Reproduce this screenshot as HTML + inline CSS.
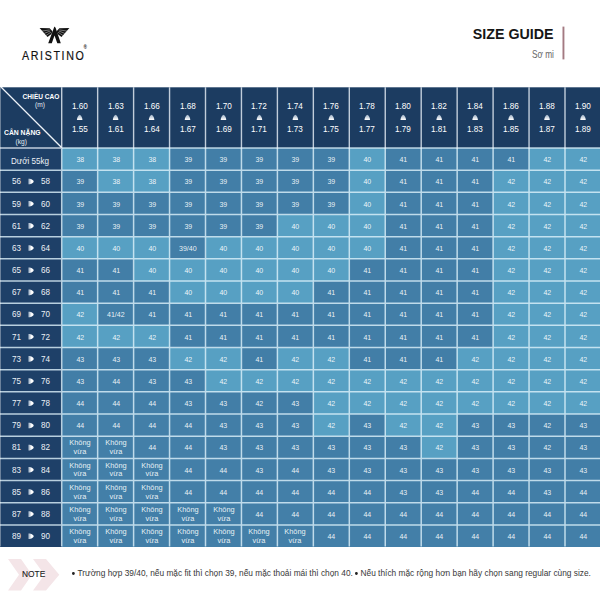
<!DOCTYPE html>
<html><head><meta charset="utf-8"><title>Size guide</title>
<style>
html,body{margin:0;padding:0;background:#fff;}
body{width:600px;height:600px;position:relative;overflow:hidden;font-family:"Liberation Sans",sans-serif;}
.abs{position:absolute;}
.c{position:absolute;color:rgba(255,255,255,.9);font-size:7.8px;line-height:1;text-align:center;display:flex;align-items:center;justify-content:center;box-sizing:border-box;padding-top:2.6px;}
.c span{display:inline-block;transform:scaleX(.9);white-space:nowrap;}
.kv{padding-top:1px !important}
.kv span{font-size:7.6px;line-height:8.2px;transform:scaleX(.97);}
.h{position:absolute;color:#fff;font-size:9.2px;line-height:1;text-align:center;}
.h span{display:inline-block;transform:scaleX(.89);white-space:nowrap;}
.l{position:absolute;color:#edf1f6;font-size:9.4px;line-height:1;white-space:nowrap;}
.l span{display:inline-block;transform:scaleX(.86);transform-origin:0 50%;}
.b{display:inline-block;width:2.8px;height:2.8px;border-radius:50%;background:#222;margin-right:3.2px;vertical-align:1.6px}
</style></head><body>

<svg width="0" height="0" style="position:absolute"><defs><linearGradient id="tg" x1="0" y1="0" x2="0" y2="1"><stop offset="0" stop-color="#9fb2c6"/><stop offset="1" stop-color="#ffffff"/></linearGradient><linearGradient id="ag" x1="0" y1="0" x2="1" y2="0"><stop offset="0" stop-color="#93a7bd"/><stop offset=".6" stop-color="#ffffff"/></linearGradient></defs></svg>
<svg class="abs" style="left:0;top:0" width="600" height="160"><rect x="0" y="87.3" width="600" height="60.7" fill="#1c3c61"/></svg>
<div class="abs" style="left:0;top:148.0px;width:61.7px;height:399.0px;background:#1e4068"></div>
<div class="abs" style="left:61.7px;top:148.0px;width:538.3px;height:399.0px;background:#4d8eb5"></div>
<div class="c" style="left:62px;top:148px;width:36px;height:22px;background:#57a0c3"><span>38</span></div>
<div class="c" style="left:98px;top:148px;width:36px;height:22px;background:#57a0c3"><span>38</span></div>
<div class="c" style="left:134px;top:148px;width:36px;height:22px;background:#57a0c3"><span>38</span></div>
<div class="c" style="left:170px;top:148px;width:36px;height:22px;background:#427ea7"><span>39</span></div>
<div class="c" style="left:206px;top:148px;width:35px;height:22px;background:#427ea7"><span>39</span></div>
<div class="c" style="left:241px;top:148px;width:36px;height:22px;background:#427ea7"><span>39</span></div>
<div class="c" style="left:277px;top:148px;width:36px;height:22px;background:#427ea7"><span>39</span></div>
<div class="c" style="left:313px;top:148px;width:36px;height:22px;background:#427ea7"><span>39</span></div>
<div class="c" style="left:349px;top:148px;width:36px;height:22px;background:#57a0c3"><span>40</span></div>
<div class="c" style="left:385px;top:148px;width:36px;height:22px;background:#427ea7"><span>41</span></div>
<div class="c" style="left:421px;top:148px;width:36px;height:22px;background:#427ea7"><span>41</span></div>
<div class="c" style="left:457px;top:148px;width:36px;height:22px;background:#427ea7"><span>41</span></div>
<div class="c" style="left:493px;top:148px;width:36px;height:22px;background:#427ea7"><span>41</span></div>
<div class="c" style="left:529px;top:148px;width:36px;height:22px;background:#57a0c3"><span>42</span></div>
<div class="c" style="left:565px;top:148px;width:36px;height:22px;background:#57a0c3"><span>42</span></div>
<div class="c" style="left:62px;top:170px;width:36px;height:22px;background:#427ea7"><span>39</span></div>
<div class="c" style="left:98px;top:170px;width:36px;height:22px;background:#57a0c3"><span>38</span></div>
<div class="c" style="left:134px;top:170px;width:36px;height:22px;background:#57a0c3"><span>38</span></div>
<div class="c" style="left:170px;top:170px;width:36px;height:22px;background:#427ea7"><span>39</span></div>
<div class="c" style="left:206px;top:170px;width:35px;height:22px;background:#427ea7"><span>39</span></div>
<div class="c" style="left:241px;top:170px;width:36px;height:22px;background:#427ea7"><span>39</span></div>
<div class="c" style="left:277px;top:170px;width:36px;height:22px;background:#427ea7"><span>39</span></div>
<div class="c" style="left:313px;top:170px;width:36px;height:22px;background:#427ea7"><span>39</span></div>
<div class="c" style="left:349px;top:170px;width:36px;height:22px;background:#57a0c3"><span>40</span></div>
<div class="c" style="left:385px;top:170px;width:36px;height:22px;background:#427ea7"><span>41</span></div>
<div class="c" style="left:421px;top:170px;width:36px;height:22px;background:#427ea7"><span>41</span></div>
<div class="c" style="left:457px;top:170px;width:36px;height:22px;background:#427ea7"><span>41</span></div>
<div class="c" style="left:493px;top:170px;width:36px;height:22px;background:#57a0c3"><span>42</span></div>
<div class="c" style="left:529px;top:170px;width:36px;height:22px;background:#57a0c3"><span>42</span></div>
<div class="c" style="left:565px;top:170px;width:36px;height:22px;background:#57a0c3"><span>42</span></div>
<div class="c" style="left:62px;top:192px;width:36px;height:23px;background:#427ea7"><span>39</span></div>
<div class="c" style="left:98px;top:192px;width:36px;height:23px;background:#427ea7"><span>39</span></div>
<div class="c" style="left:134px;top:192px;width:36px;height:23px;background:#427ea7"><span>39</span></div>
<div class="c" style="left:170px;top:192px;width:36px;height:23px;background:#427ea7"><span>39</span></div>
<div class="c" style="left:206px;top:192px;width:35px;height:23px;background:#427ea7"><span>39</span></div>
<div class="c" style="left:241px;top:192px;width:36px;height:23px;background:#427ea7"><span>39</span></div>
<div class="c" style="left:277px;top:192px;width:36px;height:23px;background:#427ea7"><span>39</span></div>
<div class="c" style="left:313px;top:192px;width:36px;height:23px;background:#427ea7"><span>39</span></div>
<div class="c" style="left:349px;top:192px;width:36px;height:23px;background:#57a0c3"><span>40</span></div>
<div class="c" style="left:385px;top:192px;width:36px;height:23px;background:#427ea7"><span>41</span></div>
<div class="c" style="left:421px;top:192px;width:36px;height:23px;background:#427ea7"><span>41</span></div>
<div class="c" style="left:457px;top:192px;width:36px;height:23px;background:#427ea7"><span>41</span></div>
<div class="c" style="left:493px;top:192px;width:36px;height:23px;background:#57a0c3"><span>42</span></div>
<div class="c" style="left:529px;top:192px;width:36px;height:23px;background:#57a0c3"><span>42</span></div>
<div class="c" style="left:565px;top:192px;width:36px;height:23px;background:#57a0c3"><span>42</span></div>
<div class="c" style="left:62px;top:215px;width:36px;height:22px;background:#427ea7"><span>39</span></div>
<div class="c" style="left:98px;top:215px;width:36px;height:22px;background:#427ea7"><span>39</span></div>
<div class="c" style="left:134px;top:215px;width:36px;height:22px;background:#427ea7"><span>39</span></div>
<div class="c" style="left:170px;top:215px;width:36px;height:22px;background:#427ea7"><span>39</span></div>
<div class="c" style="left:206px;top:215px;width:35px;height:22px;background:#427ea7"><span>39</span></div>
<div class="c" style="left:241px;top:215px;width:36px;height:22px;background:#427ea7"><span>39</span></div>
<div class="c" style="left:277px;top:215px;width:36px;height:22px;background:#57a0c3"><span>40</span></div>
<div class="c" style="left:313px;top:215px;width:36px;height:22px;background:#57a0c3"><span>40</span></div>
<div class="c" style="left:349px;top:215px;width:36px;height:22px;background:#57a0c3"><span>40</span></div>
<div class="c" style="left:385px;top:215px;width:36px;height:22px;background:#427ea7"><span>41</span></div>
<div class="c" style="left:421px;top:215px;width:36px;height:22px;background:#427ea7"><span>41</span></div>
<div class="c" style="left:457px;top:215px;width:36px;height:22px;background:#427ea7"><span>41</span></div>
<div class="c" style="left:493px;top:215px;width:36px;height:22px;background:#57a0c3"><span>42</span></div>
<div class="c" style="left:529px;top:215px;width:36px;height:22px;background:#57a0c3"><span>42</span></div>
<div class="c" style="left:565px;top:215px;width:36px;height:22px;background:#57a0c3"><span>42</span></div>
<div class="c" style="left:62px;top:237px;width:36px;height:22px;background:#57a0c3"><span>40</span></div>
<div class="c" style="left:98px;top:237px;width:36px;height:22px;background:#57a0c3"><span>40</span></div>
<div class="c" style="left:134px;top:237px;width:36px;height:22px;background:#57a0c3"><span>40</span></div>
<div class="c" style="left:170px;top:237px;width:36px;height:22px;background:#427ea7"><span>39/40</span></div>
<div class="c" style="left:206px;top:237px;width:35px;height:22px;background:#57a0c3"><span>40</span></div>
<div class="c" style="left:241px;top:237px;width:36px;height:22px;background:#57a0c3"><span>40</span></div>
<div class="c" style="left:277px;top:237px;width:36px;height:22px;background:#57a0c3"><span>40</span></div>
<div class="c" style="left:313px;top:237px;width:36px;height:22px;background:#57a0c3"><span>40</span></div>
<div class="c" style="left:349px;top:237px;width:36px;height:22px;background:#57a0c3"><span>40</span></div>
<div class="c" style="left:385px;top:237px;width:36px;height:22px;background:#427ea7"><span>41</span></div>
<div class="c" style="left:421px;top:237px;width:36px;height:22px;background:#427ea7"><span>41</span></div>
<div class="c" style="left:457px;top:237px;width:36px;height:22px;background:#427ea7"><span>41</span></div>
<div class="c" style="left:493px;top:237px;width:36px;height:22px;background:#57a0c3"><span>42</span></div>
<div class="c" style="left:529px;top:237px;width:36px;height:22px;background:#57a0c3"><span>42</span></div>
<div class="c" style="left:565px;top:237px;width:36px;height:22px;background:#57a0c3"><span>42</span></div>
<div class="c" style="left:62px;top:259px;width:36px;height:22px;background:#427ea7"><span>41</span></div>
<div class="c" style="left:98px;top:259px;width:36px;height:22px;background:#427ea7"><span>41</span></div>
<div class="c" style="left:134px;top:259px;width:36px;height:22px;background:#57a0c3"><span>40</span></div>
<div class="c" style="left:170px;top:259px;width:36px;height:22px;background:#57a0c3"><span>40</span></div>
<div class="c" style="left:206px;top:259px;width:35px;height:22px;background:#57a0c3"><span>40</span></div>
<div class="c" style="left:241px;top:259px;width:36px;height:22px;background:#57a0c3"><span>40</span></div>
<div class="c" style="left:277px;top:259px;width:36px;height:22px;background:#57a0c3"><span>40</span></div>
<div class="c" style="left:313px;top:259px;width:36px;height:22px;background:#57a0c3"><span>40</span></div>
<div class="c" style="left:349px;top:259px;width:36px;height:22px;background:#427ea7"><span>41</span></div>
<div class="c" style="left:385px;top:259px;width:36px;height:22px;background:#427ea7"><span>41</span></div>
<div class="c" style="left:421px;top:259px;width:36px;height:22px;background:#427ea7"><span>41</span></div>
<div class="c" style="left:457px;top:259px;width:36px;height:22px;background:#427ea7"><span>41</span></div>
<div class="c" style="left:493px;top:259px;width:36px;height:22px;background:#57a0c3"><span>42</span></div>
<div class="c" style="left:529px;top:259px;width:36px;height:22px;background:#57a0c3"><span>42</span></div>
<div class="c" style="left:565px;top:259px;width:36px;height:22px;background:#57a0c3"><span>42</span></div>
<div class="c" style="left:62px;top:281px;width:36px;height:22px;background:#427ea7"><span>41</span></div>
<div class="c" style="left:98px;top:281px;width:36px;height:22px;background:#427ea7"><span>41</span></div>
<div class="c" style="left:134px;top:281px;width:36px;height:22px;background:#427ea7"><span>41</span></div>
<div class="c" style="left:170px;top:281px;width:36px;height:22px;background:#57a0c3"><span>40</span></div>
<div class="c" style="left:206px;top:281px;width:35px;height:22px;background:#57a0c3"><span>40</span></div>
<div class="c" style="left:241px;top:281px;width:36px;height:22px;background:#57a0c3"><span>40</span></div>
<div class="c" style="left:277px;top:281px;width:36px;height:22px;background:#57a0c3"><span>40</span></div>
<div class="c" style="left:313px;top:281px;width:36px;height:22px;background:#427ea7"><span>41</span></div>
<div class="c" style="left:349px;top:281px;width:36px;height:22px;background:#427ea7"><span>41</span></div>
<div class="c" style="left:385px;top:281px;width:36px;height:22px;background:#427ea7"><span>41</span></div>
<div class="c" style="left:421px;top:281px;width:36px;height:22px;background:#427ea7"><span>41</span></div>
<div class="c" style="left:457px;top:281px;width:36px;height:22px;background:#427ea7"><span>41</span></div>
<div class="c" style="left:493px;top:281px;width:36px;height:22px;background:#57a0c3"><span>42</span></div>
<div class="c" style="left:529px;top:281px;width:36px;height:22px;background:#57a0c3"><span>42</span></div>
<div class="c" style="left:565px;top:281px;width:36px;height:22px;background:#57a0c3"><span>42</span></div>
<div class="c" style="left:62px;top:303px;width:36px;height:22px;background:#57a0c3"><span>42</span></div>
<div class="c" style="left:98px;top:303px;width:36px;height:22px;background:#427ea7"><span>41/42</span></div>
<div class="c" style="left:134px;top:303px;width:36px;height:22px;background:#427ea7"><span>41</span></div>
<div class="c" style="left:170px;top:303px;width:36px;height:22px;background:#427ea7"><span>41</span></div>
<div class="c" style="left:206px;top:303px;width:35px;height:22px;background:#427ea7"><span>41</span></div>
<div class="c" style="left:241px;top:303px;width:36px;height:22px;background:#427ea7"><span>41</span></div>
<div class="c" style="left:277px;top:303px;width:36px;height:22px;background:#427ea7"><span>41</span></div>
<div class="c" style="left:313px;top:303px;width:36px;height:22px;background:#427ea7"><span>41</span></div>
<div class="c" style="left:349px;top:303px;width:36px;height:22px;background:#427ea7"><span>41</span></div>
<div class="c" style="left:385px;top:303px;width:36px;height:22px;background:#427ea7"><span>41</span></div>
<div class="c" style="left:421px;top:303px;width:36px;height:22px;background:#427ea7"><span>41</span></div>
<div class="c" style="left:457px;top:303px;width:36px;height:22px;background:#427ea7"><span>41</span></div>
<div class="c" style="left:493px;top:303px;width:36px;height:22px;background:#57a0c3"><span>42</span></div>
<div class="c" style="left:529px;top:303px;width:36px;height:22px;background:#57a0c3"><span>42</span></div>
<div class="c" style="left:565px;top:303px;width:36px;height:22px;background:#57a0c3"><span>42</span></div>
<div class="c" style="left:62px;top:325px;width:36px;height:23px;background:#57a0c3"><span>42</span></div>
<div class="c" style="left:98px;top:325px;width:36px;height:23px;background:#57a0c3"><span>42</span></div>
<div class="c" style="left:134px;top:325px;width:36px;height:23px;background:#57a0c3"><span>42</span></div>
<div class="c" style="left:170px;top:325px;width:36px;height:23px;background:#427ea7"><span>41</span></div>
<div class="c" style="left:206px;top:325px;width:35px;height:23px;background:#427ea7"><span>41</span></div>
<div class="c" style="left:241px;top:325px;width:36px;height:23px;background:#427ea7"><span>41</span></div>
<div class="c" style="left:277px;top:325px;width:36px;height:23px;background:#427ea7"><span>41</span></div>
<div class="c" style="left:313px;top:325px;width:36px;height:23px;background:#427ea7"><span>41</span></div>
<div class="c" style="left:349px;top:325px;width:36px;height:23px;background:#427ea7"><span>41</span></div>
<div class="c" style="left:385px;top:325px;width:36px;height:23px;background:#427ea7"><span>41</span></div>
<div class="c" style="left:421px;top:325px;width:36px;height:23px;background:#427ea7"><span>41</span></div>
<div class="c" style="left:457px;top:325px;width:36px;height:23px;background:#427ea7"><span>41</span></div>
<div class="c" style="left:493px;top:325px;width:36px;height:23px;background:#57a0c3"><span>42</span></div>
<div class="c" style="left:529px;top:325px;width:36px;height:23px;background:#57a0c3"><span>42</span></div>
<div class="c" style="left:565px;top:325px;width:36px;height:23px;background:#57a0c3"><span>42</span></div>
<div class="c" style="left:62px;top:348px;width:36px;height:22px;background:#427ea7"><span>43</span></div>
<div class="c" style="left:98px;top:348px;width:36px;height:22px;background:#427ea7"><span>43</span></div>
<div class="c" style="left:134px;top:348px;width:36px;height:22px;background:#427ea7"><span>43</span></div>
<div class="c" style="left:170px;top:348px;width:36px;height:22px;background:#57a0c3"><span>42</span></div>
<div class="c" style="left:206px;top:348px;width:35px;height:22px;background:#57a0c3"><span>42</span></div>
<div class="c" style="left:241px;top:348px;width:36px;height:22px;background:#427ea7"><span>41</span></div>
<div class="c" style="left:277px;top:348px;width:36px;height:22px;background:#57a0c3"><span>42</span></div>
<div class="c" style="left:313px;top:348px;width:36px;height:22px;background:#57a0c3"><span>42</span></div>
<div class="c" style="left:349px;top:348px;width:36px;height:22px;background:#427ea7"><span>41</span></div>
<div class="c" style="left:385px;top:348px;width:36px;height:22px;background:#427ea7"><span>41</span></div>
<div class="c" style="left:421px;top:348px;width:36px;height:22px;background:#427ea7"><span>41</span></div>
<div class="c" style="left:457px;top:348px;width:36px;height:22px;background:#57a0c3"><span>42</span></div>
<div class="c" style="left:493px;top:348px;width:36px;height:22px;background:#57a0c3"><span>42</span></div>
<div class="c" style="left:529px;top:348px;width:36px;height:22px;background:#57a0c3"><span>42</span></div>
<div class="c" style="left:565px;top:348px;width:36px;height:22px;background:#57a0c3"><span>42</span></div>
<div class="c" style="left:62px;top:370px;width:36px;height:22px;background:#427ea7"><span>43</span></div>
<div class="c" style="left:98px;top:370px;width:36px;height:22px;background:#437fa8"><span>44</span></div>
<div class="c" style="left:134px;top:370px;width:36px;height:22px;background:#427ea7"><span>43</span></div>
<div class="c" style="left:170px;top:370px;width:36px;height:22px;background:#427ea7"><span>43</span></div>
<div class="c" style="left:206px;top:370px;width:35px;height:22px;background:#57a0c3"><span>42</span></div>
<div class="c" style="left:241px;top:370px;width:36px;height:22px;background:#57a0c3"><span>42</span></div>
<div class="c" style="left:277px;top:370px;width:36px;height:22px;background:#57a0c3"><span>42</span></div>
<div class="c" style="left:313px;top:370px;width:36px;height:22px;background:#57a0c3"><span>42</span></div>
<div class="c" style="left:349px;top:370px;width:36px;height:22px;background:#57a0c3"><span>42</span></div>
<div class="c" style="left:385px;top:370px;width:36px;height:22px;background:#57a0c3"><span>42</span></div>
<div class="c" style="left:421px;top:370px;width:36px;height:22px;background:#57a0c3"><span>42</span></div>
<div class="c" style="left:457px;top:370px;width:36px;height:22px;background:#57a0c3"><span>42</span></div>
<div class="c" style="left:493px;top:370px;width:36px;height:22px;background:#57a0c3"><span>42</span></div>
<div class="c" style="left:529px;top:370px;width:36px;height:22px;background:#57a0c3"><span>42</span></div>
<div class="c" style="left:565px;top:370px;width:36px;height:22px;background:#57a0c3"><span>42</span></div>
<div class="c" style="left:62px;top:392px;width:36px;height:22px;background:#437fa8"><span>44</span></div>
<div class="c" style="left:98px;top:392px;width:36px;height:22px;background:#437fa8"><span>44</span></div>
<div class="c" style="left:134px;top:392px;width:36px;height:22px;background:#437fa8"><span>44</span></div>
<div class="c" style="left:170px;top:392px;width:36px;height:22px;background:#427ea7"><span>43</span></div>
<div class="c" style="left:206px;top:392px;width:35px;height:22px;background:#427ea7"><span>43</span></div>
<div class="c" style="left:241px;top:392px;width:36px;height:22px;background:#427ea7"><span>42</span></div>
<div class="c" style="left:277px;top:392px;width:36px;height:22px;background:#427ea7"><span>43</span></div>
<div class="c" style="left:313px;top:392px;width:36px;height:22px;background:#57a0c3"><span>42</span></div>
<div class="c" style="left:349px;top:392px;width:36px;height:22px;background:#57a0c3"><span>42</span></div>
<div class="c" style="left:385px;top:392px;width:36px;height:22px;background:#57a0c3"><span>42</span></div>
<div class="c" style="left:421px;top:392px;width:36px;height:22px;background:#57a0c3"><span>42</span></div>
<div class="c" style="left:457px;top:392px;width:36px;height:22px;background:#57a0c3"><span>42</span></div>
<div class="c" style="left:493px;top:392px;width:36px;height:22px;background:#57a0c3"><span>42</span></div>
<div class="c" style="left:529px;top:392px;width:36px;height:22px;background:#57a0c3"><span>42</span></div>
<div class="c" style="left:565px;top:392px;width:36px;height:22px;background:#57a0c3"><span>42</span></div>
<div class="c" style="left:62px;top:414px;width:36px;height:22px;background:#437fa8"><span>44</span></div>
<div class="c" style="left:98px;top:414px;width:36px;height:22px;background:#437fa8"><span>44</span></div>
<div class="c" style="left:134px;top:414px;width:36px;height:22px;background:#437fa8"><span>44</span></div>
<div class="c" style="left:170px;top:414px;width:36px;height:22px;background:#437fa8"><span>44</span></div>
<div class="c" style="left:206px;top:414px;width:35px;height:22px;background:#427ea7"><span>43</span></div>
<div class="c" style="left:241px;top:414px;width:36px;height:22px;background:#427ea7"><span>43</span></div>
<div class="c" style="left:277px;top:414px;width:36px;height:22px;background:#427ea7"><span>43</span></div>
<div class="c" style="left:313px;top:414px;width:36px;height:22px;background:#57a0c3"><span>42</span></div>
<div class="c" style="left:349px;top:414px;width:36px;height:22px;background:#427ea7"><span>43</span></div>
<div class="c" style="left:385px;top:414px;width:36px;height:22px;background:#57a0c3"><span>42</span></div>
<div class="c" style="left:421px;top:414px;width:36px;height:22px;background:#57a0c3"><span>42</span></div>
<div class="c" style="left:457px;top:414px;width:36px;height:22px;background:#427ea7"><span>43</span></div>
<div class="c" style="left:493px;top:414px;width:36px;height:22px;background:#427ea7"><span>43</span></div>
<div class="c" style="left:529px;top:414px;width:36px;height:22px;background:#427ea7"><span>42</span></div>
<div class="c" style="left:565px;top:414px;width:36px;height:22px;background:#427ea7"><span>43</span></div>
<div class="c kv" style="left:62px;top:436px;width:36px;height:22px;background:#437fa8"><span>Không<br>vừa</span></div>
<div class="c kv" style="left:98px;top:436px;width:36px;height:22px;background:#437fa8"><span>Không<br>vừa</span></div>
<div class="c" style="left:134px;top:436px;width:36px;height:22px;background:#437fa8"><span>44</span></div>
<div class="c" style="left:170px;top:436px;width:36px;height:22px;background:#437fa8"><span>44</span></div>
<div class="c" style="left:206px;top:436px;width:35px;height:22px;background:#427ea7"><span>43</span></div>
<div class="c" style="left:241px;top:436px;width:36px;height:22px;background:#427ea7"><span>43</span></div>
<div class="c" style="left:277px;top:436px;width:36px;height:22px;background:#427ea7"><span>43</span></div>
<div class="c" style="left:313px;top:436px;width:36px;height:22px;background:#427ea7"><span>43</span></div>
<div class="c" style="left:349px;top:436px;width:36px;height:22px;background:#427ea7"><span>43</span></div>
<div class="c" style="left:385px;top:436px;width:36px;height:22px;background:#427ea7"><span>43</span></div>
<div class="c" style="left:421px;top:436px;width:36px;height:22px;background:#57a0c3"><span>42</span></div>
<div class="c" style="left:457px;top:436px;width:36px;height:22px;background:#427ea7"><span>43</span></div>
<div class="c" style="left:493px;top:436px;width:36px;height:22px;background:#427ea7"><span>43</span></div>
<div class="c" style="left:529px;top:436px;width:36px;height:22px;background:#427ea7"><span>42</span></div>
<div class="c" style="left:565px;top:436px;width:36px;height:22px;background:#427ea7"><span>43</span></div>
<div class="c kv" style="left:62px;top:458px;width:36px;height:23px;background:#437fa8"><span>Không<br>vừa</span></div>
<div class="c kv" style="left:98px;top:458px;width:36px;height:23px;background:#437fa8"><span>Không<br>vừa</span></div>
<div class="c kv" style="left:134px;top:458px;width:36px;height:23px;background:#437fa8"><span>Không<br>vừa</span></div>
<div class="c" style="left:170px;top:458px;width:36px;height:23px;background:#437fa8"><span>44</span></div>
<div class="c" style="left:206px;top:458px;width:35px;height:23px;background:#437fa8"><span>44</span></div>
<div class="c" style="left:241px;top:458px;width:36px;height:23px;background:#427ea7"><span>43</span></div>
<div class="c" style="left:277px;top:458px;width:36px;height:23px;background:#437fa8"><span>44</span></div>
<div class="c" style="left:313px;top:458px;width:36px;height:23px;background:#427ea7"><span>43</span></div>
<div class="c" style="left:349px;top:458px;width:36px;height:23px;background:#427ea7"><span>43</span></div>
<div class="c" style="left:385px;top:458px;width:36px;height:23px;background:#427ea7"><span>43</span></div>
<div class="c" style="left:421px;top:458px;width:36px;height:23px;background:#427ea7"><span>43</span></div>
<div class="c" style="left:457px;top:458px;width:36px;height:23px;background:#427ea7"><span>43</span></div>
<div class="c" style="left:493px;top:458px;width:36px;height:23px;background:#427ea7"><span>43</span></div>
<div class="c" style="left:529px;top:458px;width:36px;height:23px;background:#427ea7"><span>43</span></div>
<div class="c" style="left:565px;top:458px;width:36px;height:23px;background:#427ea7"><span>43</span></div>
<div class="c kv" style="left:62px;top:481px;width:36px;height:22px;background:#437fa8"><span>Không<br>vừa</span></div>
<div class="c kv" style="left:98px;top:481px;width:36px;height:22px;background:#437fa8"><span>Không<br>vừa</span></div>
<div class="c kv" style="left:134px;top:481px;width:36px;height:22px;background:#437fa8"><span>Không<br>vừa</span></div>
<div class="c" style="left:170px;top:481px;width:36px;height:22px;background:#437fa8"><span>44</span></div>
<div class="c" style="left:206px;top:481px;width:35px;height:22px;background:#437fa8"><span>44</span></div>
<div class="c" style="left:241px;top:481px;width:36px;height:22px;background:#437fa8"><span>44</span></div>
<div class="c" style="left:277px;top:481px;width:36px;height:22px;background:#437fa8"><span>44</span></div>
<div class="c" style="left:313px;top:481px;width:36px;height:22px;background:#437fa8"><span>44</span></div>
<div class="c" style="left:349px;top:481px;width:36px;height:22px;background:#437fa8"><span>44</span></div>
<div class="c" style="left:385px;top:481px;width:36px;height:22px;background:#427ea7"><span>43</span></div>
<div class="c" style="left:421px;top:481px;width:36px;height:22px;background:#427ea7"><span>43</span></div>
<div class="c" style="left:457px;top:481px;width:36px;height:22px;background:#437fa8"><span>44</span></div>
<div class="c" style="left:493px;top:481px;width:36px;height:22px;background:#437fa8"><span>44</span></div>
<div class="c" style="left:529px;top:481px;width:36px;height:22px;background:#427ea7"><span>43</span></div>
<div class="c" style="left:565px;top:481px;width:36px;height:22px;background:#437fa8"><span>44</span></div>
<div class="c kv" style="left:62px;top:503px;width:36px;height:22px;background:#437fa8"><span>Không<br>vừa</span></div>
<div class="c kv" style="left:98px;top:503px;width:36px;height:22px;background:#437fa8"><span>Không<br>vừa</span></div>
<div class="c kv" style="left:134px;top:503px;width:36px;height:22px;background:#437fa8"><span>Không<br>vừa</span></div>
<div class="c kv" style="left:170px;top:503px;width:36px;height:22px;background:#437fa8"><span>Không<br>vừa</span></div>
<div class="c kv" style="left:206px;top:503px;width:35px;height:22px;background:#437fa8"><span>Không<br>vừa</span></div>
<div class="c" style="left:241px;top:503px;width:36px;height:22px;background:#437fa8"><span>44</span></div>
<div class="c" style="left:277px;top:503px;width:36px;height:22px;background:#437fa8"><span>44</span></div>
<div class="c" style="left:313px;top:503px;width:36px;height:22px;background:#437fa8"><span>44</span></div>
<div class="c" style="left:349px;top:503px;width:36px;height:22px;background:#437fa8"><span>44</span></div>
<div class="c" style="left:385px;top:503px;width:36px;height:22px;background:#437fa8"><span>44</span></div>
<div class="c" style="left:421px;top:503px;width:36px;height:22px;background:#437fa8"><span>44</span></div>
<div class="c" style="left:457px;top:503px;width:36px;height:22px;background:#437fa8"><span>44</span></div>
<div class="c" style="left:493px;top:503px;width:36px;height:22px;background:#437fa8"><span>44</span></div>
<div class="c" style="left:529px;top:503px;width:36px;height:22px;background:#437fa8"><span>44</span></div>
<div class="c" style="left:565px;top:503px;width:36px;height:22px;background:#437fa8"><span>44</span></div>
<div class="c kv" style="left:62px;top:525px;width:36px;height:22px;background:#437fa8"><span>Không<br>vừa</span></div>
<div class="c kv" style="left:98px;top:525px;width:36px;height:22px;background:#437fa8"><span>Không<br>vừa</span></div>
<div class="c kv" style="left:134px;top:525px;width:36px;height:22px;background:#437fa8"><span>Không<br>vừa</span></div>
<div class="c kv" style="left:170px;top:525px;width:36px;height:22px;background:#437fa8"><span>Không<br>vừa</span></div>
<div class="c kv" style="left:206px;top:525px;width:35px;height:22px;background:#437fa8"><span>Không<br>vừa</span></div>
<div class="c kv" style="left:241px;top:525px;width:36px;height:22px;background:#437fa8"><span>Không<br>vừa</span></div>
<div class="c kv" style="left:277px;top:525px;width:36px;height:22px;background:#437fa8"><span>Không<br>vừa</span></div>
<div class="c" style="left:313px;top:525px;width:36px;height:22px;background:#437fa8"><span>44</span></div>
<div class="c" style="left:349px;top:525px;width:36px;height:22px;background:#437fa8"><span>44</span></div>
<div class="c" style="left:385px;top:525px;width:36px;height:22px;background:#437fa8"><span>44</span></div>
<div class="c" style="left:421px;top:525px;width:36px;height:22px;background:#437fa8"><span>44</span></div>
<div class="c" style="left:457px;top:525px;width:36px;height:22px;background:#437fa8"><span>44</span></div>
<div class="c" style="left:493px;top:525px;width:36px;height:22px;background:#437fa8"><span>44</span></div>
<div class="c" style="left:529px;top:525px;width:36px;height:22px;background:#437fa8"><span>44</span></div>
<div class="c" style="left:565px;top:525px;width:36px;height:22px;background:#437fa8"><span>44</span></div>
<div class="h" style="left:61.70px;top:101.9px;width:35.95px"><span>1.60</span></div>
<div class="h" style="left:61.70px;top:125px;width:35.95px"><span>1.55</span></div>
<div class="h" style="left:97.65px;top:101.9px;width:35.95px"><span>1.63</span></div>
<div class="h" style="left:97.65px;top:125px;width:35.95px"><span>1.61</span></div>
<div class="h" style="left:133.60px;top:101.9px;width:35.95px"><span>1.66</span></div>
<div class="h" style="left:133.60px;top:125px;width:35.95px"><span>1.64</span></div>
<div class="h" style="left:169.55px;top:101.9px;width:35.95px"><span>1.68</span></div>
<div class="h" style="left:169.55px;top:125px;width:35.95px"><span>1.67</span></div>
<div class="h" style="left:205.50px;top:101.9px;width:35.95px"><span>1.70</span></div>
<div class="h" style="left:205.50px;top:125px;width:35.95px"><span>1.69</span></div>
<div class="h" style="left:241.45px;top:101.9px;width:35.95px"><span>1.72</span></div>
<div class="h" style="left:241.45px;top:125px;width:35.95px"><span>1.71</span></div>
<div class="h" style="left:277.40px;top:101.9px;width:35.95px"><span>1.74</span></div>
<div class="h" style="left:277.40px;top:125px;width:35.95px"><span>1.73</span></div>
<div class="h" style="left:313.35px;top:101.9px;width:35.95px"><span>1.76</span></div>
<div class="h" style="left:313.35px;top:125px;width:35.95px"><span>1.75</span></div>
<div class="h" style="left:349.30px;top:101.9px;width:35.95px"><span>1.78</span></div>
<div class="h" style="left:349.30px;top:125px;width:35.95px"><span>1.77</span></div>
<div class="h" style="left:385.25px;top:101.9px;width:35.95px"><span>1.80</span></div>
<div class="h" style="left:385.25px;top:125px;width:35.95px"><span>1.79</span></div>
<div class="h" style="left:421.20px;top:101.9px;width:35.95px"><span>1.82</span></div>
<div class="h" style="left:421.20px;top:125px;width:35.95px"><span>1.81</span></div>
<div class="h" style="left:457.15px;top:101.9px;width:35.95px"><span>1.84</span></div>
<div class="h" style="left:457.15px;top:125px;width:35.95px"><span>1.83</span></div>
<div class="h" style="left:493.10px;top:101.9px;width:35.95px"><span>1.86</span></div>
<div class="h" style="left:493.10px;top:125px;width:35.95px"><span>1.85</span></div>
<div class="h" style="left:529.05px;top:101.9px;width:35.95px"><span>1.88</span></div>
<div class="h" style="left:529.05px;top:125px;width:35.95px"><span>1.87</span></div>
<div class="h" style="left:565.00px;top:101.9px;width:35.95px"><span>1.90</span></div>
<div class="h" style="left:565.00px;top:125px;width:35.95px"><span>1.89</span></div>
<div class="l" style="left:11.2px;top:155.89px;"><span>Dưới 55kg</span></div>
<div class="l" style="left:11.5px;top:176.36px;"><span>56</span></div>
<div class="l" style="left:40.5px;top:176.36px;"><span>58</span></div>
<div class="l" style="left:11.5px;top:198.53px;"><span>59</span></div>
<div class="l" style="left:40.5px;top:198.53px;"><span>60</span></div>
<div class="l" style="left:11.5px;top:220.69px;"><span>61</span></div>
<div class="l" style="left:40.5px;top:220.69px;"><span>62</span></div>
<div class="l" style="left:11.5px;top:242.87px;"><span>63</span></div>
<div class="l" style="left:40.5px;top:242.87px;"><span>64</span></div>
<div class="l" style="left:11.5px;top:265.04px;"><span>65</span></div>
<div class="l" style="left:40.5px;top:265.04px;"><span>66</span></div>
<div class="l" style="left:11.5px;top:287.20px;"><span>67</span></div>
<div class="l" style="left:40.5px;top:287.20px;"><span>68</span></div>
<div class="l" style="left:11.5px;top:309.38px;"><span>69</span></div>
<div class="l" style="left:40.5px;top:309.38px;"><span>70</span></div>
<div class="l" style="left:11.5px;top:331.55px;"><span>71</span></div>
<div class="l" style="left:40.5px;top:331.55px;"><span>72</span></div>
<div class="l" style="left:11.5px;top:353.72px;"><span>73</span></div>
<div class="l" style="left:40.5px;top:353.72px;"><span>74</span></div>
<div class="l" style="left:11.5px;top:375.89px;"><span>75</span></div>
<div class="l" style="left:40.5px;top:375.89px;"><span>76</span></div>
<div class="l" style="left:11.5px;top:398.06px;"><span>77</span></div>
<div class="l" style="left:40.5px;top:398.06px;"><span>78</span></div>
<div class="l" style="left:11.5px;top:420.23px;"><span>79</span></div>
<div class="l" style="left:40.5px;top:420.23px;"><span>80</span></div>
<div class="l" style="left:11.5px;top:442.40px;"><span>81</span></div>
<div class="l" style="left:40.5px;top:442.40px;"><span>82</span></div>
<div class="l" style="left:11.5px;top:464.56px;"><span>83</span></div>
<div class="l" style="left:40.5px;top:464.56px;"><span>84</span></div>
<div class="l" style="left:11.5px;top:486.74px;"><span>85</span></div>
<div class="l" style="left:40.5px;top:486.74px;"><span>86</span></div>
<div class="l" style="left:11.5px;top:508.91px;"><span>87</span></div>
<div class="l" style="left:40.5px;top:508.91px;"><span>88</span></div>
<div class="l" style="left:11.5px;top:531.08px;"><span>89</span></div>
<div class="l" style="left:40.5px;top:531.08px;"><span>90</span></div>
<svg class="abs" style="left:0;top:0" width="600" height="600"><path transform="translate(76.68 114.4)" d="M3 0.4 C4.6 0.9 5.6 3.2 5.8 5.6 L0.2 5.6 C0.4 3.2 1.4 0.9 3 0.4Z" fill="url(#tg)"/><path transform="translate(112.62 114.4)" d="M3 0.4 C4.6 0.9 5.6 3.2 5.8 5.6 L0.2 5.6 C0.4 3.2 1.4 0.9 3 0.4Z" fill="url(#tg)"/><path transform="translate(148.58 114.4)" d="M3 0.4 C4.6 0.9 5.6 3.2 5.8 5.6 L0.2 5.6 C0.4 3.2 1.4 0.9 3 0.4Z" fill="url(#tg)"/><path transform="translate(184.53 114.4)" d="M3 0.4 C4.6 0.9 5.6 3.2 5.8 5.6 L0.2 5.6 C0.4 3.2 1.4 0.9 3 0.4Z" fill="url(#tg)"/><path transform="translate(220.47 114.4)" d="M3 0.4 C4.6 0.9 5.6 3.2 5.8 5.6 L0.2 5.6 C0.4 3.2 1.4 0.9 3 0.4Z" fill="url(#tg)"/><path transform="translate(256.43 114.4)" d="M3 0.4 C4.6 0.9 5.6 3.2 5.8 5.6 L0.2 5.6 C0.4 3.2 1.4 0.9 3 0.4Z" fill="url(#tg)"/><path transform="translate(292.38 114.4)" d="M3 0.4 C4.6 0.9 5.6 3.2 5.8 5.6 L0.2 5.6 C0.4 3.2 1.4 0.9 3 0.4Z" fill="url(#tg)"/><path transform="translate(328.33 114.4)" d="M3 0.4 C4.6 0.9 5.6 3.2 5.8 5.6 L0.2 5.6 C0.4 3.2 1.4 0.9 3 0.4Z" fill="url(#tg)"/><path transform="translate(364.28 114.4)" d="M3 0.4 C4.6 0.9 5.6 3.2 5.8 5.6 L0.2 5.6 C0.4 3.2 1.4 0.9 3 0.4Z" fill="url(#tg)"/><path transform="translate(400.23 114.4)" d="M3 0.4 C4.6 0.9 5.6 3.2 5.8 5.6 L0.2 5.6 C0.4 3.2 1.4 0.9 3 0.4Z" fill="url(#tg)"/><path transform="translate(436.18 114.4)" d="M3 0.4 C4.6 0.9 5.6 3.2 5.8 5.6 L0.2 5.6 C0.4 3.2 1.4 0.9 3 0.4Z" fill="url(#tg)"/><path transform="translate(472.13 114.4)" d="M3 0.4 C4.6 0.9 5.6 3.2 5.8 5.6 L0.2 5.6 C0.4 3.2 1.4 0.9 3 0.4Z" fill="url(#tg)"/><path transform="translate(508.08 114.4)" d="M3 0.4 C4.6 0.9 5.6 3.2 5.8 5.6 L0.2 5.6 C0.4 3.2 1.4 0.9 3 0.4Z" fill="url(#tg)"/><path transform="translate(544.03 114.4)" d="M3 0.4 C4.6 0.9 5.6 3.2 5.8 5.6 L0.2 5.6 C0.4 3.2 1.4 0.9 3 0.4Z" fill="url(#tg)"/><path transform="translate(579.98 114.4)" d="M3 0.4 C4.6 0.9 5.6 3.2 5.8 5.6 L0.2 5.6 C0.4 3.2 1.4 0.9 3 0.4Z" fill="url(#tg)"/><path transform="translate(28 178.56)" d="M0.4 0.2 L1.8 0.2 C4.2 0.7 5.7 2.2 5.7 3 C5.7 3.8 4.2 5.3 1.8 5.8 L0.4 5.8 Z" fill="url(#ag)"/><path transform="translate(28 200.73)" d="M0.4 0.2 L1.8 0.2 C4.2 0.7 5.7 2.2 5.7 3 C5.7 3.8 4.2 5.3 1.8 5.8 L0.4 5.8 Z" fill="url(#ag)"/><path transform="translate(28 222.90)" d="M0.4 0.2 L1.8 0.2 C4.2 0.7 5.7 2.2 5.7 3 C5.7 3.8 4.2 5.3 1.8 5.8 L0.4 5.8 Z" fill="url(#ag)"/><path transform="translate(28 245.07)" d="M0.4 0.2 L1.8 0.2 C4.2 0.7 5.7 2.2 5.7 3 C5.7 3.8 4.2 5.3 1.8 5.8 L0.4 5.8 Z" fill="url(#ag)"/><path transform="translate(28 267.24)" d="M0.4 0.2 L1.8 0.2 C4.2 0.7 5.7 2.2 5.7 3 C5.7 3.8 4.2 5.3 1.8 5.8 L0.4 5.8 Z" fill="url(#ag)"/><path transform="translate(28 289.40)" d="M0.4 0.2 L1.8 0.2 C4.2 0.7 5.7 2.2 5.7 3 C5.7 3.8 4.2 5.3 1.8 5.8 L0.4 5.8 Z" fill="url(#ag)"/><path transform="translate(28 311.57)" d="M0.4 0.2 L1.8 0.2 C4.2 0.7 5.7 2.2 5.7 3 C5.7 3.8 4.2 5.3 1.8 5.8 L0.4 5.8 Z" fill="url(#ag)"/><path transform="translate(28 333.75)" d="M0.4 0.2 L1.8 0.2 C4.2 0.7 5.7 2.2 5.7 3 C5.7 3.8 4.2 5.3 1.8 5.8 L0.4 5.8 Z" fill="url(#ag)"/><path transform="translate(28 355.92)" d="M0.4 0.2 L1.8 0.2 C4.2 0.7 5.7 2.2 5.7 3 C5.7 3.8 4.2 5.3 1.8 5.8 L0.4 5.8 Z" fill="url(#ag)"/><path transform="translate(28 378.09)" d="M0.4 0.2 L1.8 0.2 C4.2 0.7 5.7 2.2 5.7 3 C5.7 3.8 4.2 5.3 1.8 5.8 L0.4 5.8 Z" fill="url(#ag)"/><path transform="translate(28 400.25)" d="M0.4 0.2 L1.8 0.2 C4.2 0.7 5.7 2.2 5.7 3 C5.7 3.8 4.2 5.3 1.8 5.8 L0.4 5.8 Z" fill="url(#ag)"/><path transform="translate(28 422.43)" d="M0.4 0.2 L1.8 0.2 C4.2 0.7 5.7 2.2 5.7 3 C5.7 3.8 4.2 5.3 1.8 5.8 L0.4 5.8 Z" fill="url(#ag)"/><path transform="translate(28 444.60)" d="M0.4 0.2 L1.8 0.2 C4.2 0.7 5.7 2.2 5.7 3 C5.7 3.8 4.2 5.3 1.8 5.8 L0.4 5.8 Z" fill="url(#ag)"/><path transform="translate(28 466.76)" d="M0.4 0.2 L1.8 0.2 C4.2 0.7 5.7 2.2 5.7 3 C5.7 3.8 4.2 5.3 1.8 5.8 L0.4 5.8 Z" fill="url(#ag)"/><path transform="translate(28 488.94)" d="M0.4 0.2 L1.8 0.2 C4.2 0.7 5.7 2.2 5.7 3 C5.7 3.8 4.2 5.3 1.8 5.8 L0.4 5.8 Z" fill="url(#ag)"/><path transform="translate(28 511.11)" d="M0.4 0.2 L1.8 0.2 C4.2 0.7 5.7 2.2 5.7 3 C5.7 3.8 4.2 5.3 1.8 5.8 L0.4 5.8 Z" fill="url(#ag)"/><path transform="translate(28 533.28)" d="M0.4 0.2 L1.8 0.2 C4.2 0.7 5.7 2.2 5.7 3 C5.7 3.8 4.2 5.3 1.8 5.8 L0.4 5.8 Z" fill="url(#ag)"/></svg>
<svg class="abs" style="left:0;top:0" width="600" height="600"><path d="M61.70 148.75 V546.46 M97.65 148.75 V546.46 M133.60 148.75 V546.46 M169.55 148.75 V546.46 M205.50 148.75 V546.46 M241.45 148.75 V546.46 M277.40 148.75 V546.46 M313.35 148.75 V546.46 M349.30 148.75 V546.46 M385.25 148.75 V546.46 M421.20 148.75 V546.46 M457.15 148.75 V546.46 M493.10 148.75 V546.46 M529.05 148.75 V546.46 M565.00 148.75 V546.46 M600.95 148.75 V546.46 M0 170.17 H600 M0 192.34 H600 M0 214.51 H600 M0 236.68 H600 M0 258.85 H600 M0 281.02 H600 M0 303.19 H600 M0 325.36 H600 M0 347.53 H600 M0 369.70 H600 M0 391.87 H600 M0 414.04 H600 M0 436.21 H600 M0 458.38 H600 M0 480.55 H600 M0 502.72 H600 M0 524.89 H600 M61.70 148.00 H600" stroke="rgba(222,242,251,.8)" stroke-width="1.5" fill="none"/><path d="M61.70 87.3 V148.75 M97.65 87.3 V148.75 M133.60 87.3 V148.75 M169.55 87.3 V148.75 M205.50 87.3 V148.75 M241.45 87.3 V148.75 M277.40 87.3 V148.75 M313.35 87.3 V148.75 M349.30 87.3 V148.75 M385.25 87.3 V148.75 M421.20 87.3 V148.75 M457.15 87.3 V148.75 M493.10 87.3 V148.75 M529.05 87.3 V148.75 M565.00 87.3 V148.75 M600.95 87.3 V148.75 M0 148.00 H61.70" stroke="rgba(240,246,252,.78)" stroke-width="1.4" fill="none"/><path d="M0.5 87.3 V546.46" stroke="rgba(255,255,255,.35)" stroke-width="1" fill="none"/></svg>
<svg class="abs" style="left:0;top:87.3px" width="61.7" height="60.7"><line x1="1" y1="0" x2="61.7" y2="60.7" stroke="#eef3f8" stroke-width="1.3"/></svg>
<div class="abs" style="left:0;top:92.8px;width:59.1px;text-align:right;color:#fff;font-weight:bold;font-size:7.4px;line-height:1;white-space:nowrap"><span style="display:inline-block;transform:scaleX(.89);transform-origin:100% 50%">CHIỀU CAO</span></div>
<div class="abs" style="left:35px;top:101.5px;color:#e4ecf3;font-size:6.6px;line-height:1;">(m)</div>
<div class="abs" style="left:4px;top:129.3px;color:#fff;font-weight:bold;font-size:7.4px;line-height:1;white-space:nowrap"><span style="display:inline-block;transform:scaleX(.92);transform-origin:0 50%">CÂN NẶNG</span></div>
<div class="abs" style="left:15.5px;top:138.7px;color:#e4ecf3;font-size:6.6px;line-height:1;">(kg)</div>
<svg class="abs" style="left:35px;top:20px" width="40" height="30" viewBox="0 0 40 30">
<g fill="#111">
<path d="M19.4 6.5 L20.6 7.8 L25.8 23.3 L22.3 23.3 L19.5 15.4 L16.8 23.3 L13.2 23.3 Z"/>
<path d="M4.6 7.9 L14.6 8.2 L17.4 11.2 L16.4 14 L12.5 17 Z"/>
<path d="M34.4 7.9 L24.4 8.2 L21.6 11.2 L22.6 14 L26.5 17 Z"/>
</g>
<g stroke="#fff" stroke-width="0.42" fill="none">
<path d="M7 11.1 L14.6 9.9 M9.2 13.4 L15.2 11 M11 15.5 L15.9 12.2"/>
<path d="M32 11.1 L24.4 9.9 M29.8 13.4 L23.8 11 M28 15.5 L23.1 12.2"/>
</g></svg>
<div class="abs" style="left:21.6px;top:50.1px;color:#111;font-size:12.9px;line-height:1;letter-spacing:1.95px;white-space:nowrap;-webkit-text-stroke:.2px #111"><span style="display:inline-block;transform:scaleX(.83);transform-origin:0 50%">ARISTINO</span></div>
<div class="abs" style="left:83.6px;top:46.2px;color:#111;font-size:4.6px;line-height:1;font-weight:bold;">®</div>
<div class="abs" style="left:400px;top:27.4px;width:553.6px;color:#161616;font-weight:bold;font-size:14.25px;line-height:1;white-space:nowrap;width:153.6px;text-align:right">SIZE GUIDE</div>
<div class="abs" style="left:480px;top:48.8px;width:73.6px;text-align:right;color:#666;font-size:10.9px;line-height:1;white-space:nowrap"><span style="display:inline-block;transform:scaleX(.76);transform-origin:100% 50%">Sơ mi</span></div>
<svg class="abs" style="left:555px;top:20px" width="20" height="50"><rect x="7.5" y="6.6" width="1.9" height="32.8" fill="#a47a82"/></svg>
<svg class="abs" style="left:5px;top:556px" width="60" height="38" viewBox="0 0 60 38">
<g fill="#f4e5e8"><path d="M3 3 L16 3 L27 18.7 L16 34.5 L3 34.5 L14 18.7 Z"/><path d="M28 3 L41 3 L54.3 18.7 L41 34.5 L28 34.5 L39.5 18.7 Z"/></g></svg>
<div class="abs" style="left:22.2px;top:570px;color:#1b1b1b;font-size:8.8px;line-height:1;white-space:nowrap;-webkit-text-stroke:.12px #1b1b1b"><span style="display:inline-block;transform:scaleX(.95);transform-origin:0 50%">NOTE</span></div>
<div class="abs" style="left:72px;top:569.4px;color:#383838;font-size:9px;line-height:1;white-space:nowrap"><span style="display:inline-block;transform:scaleX(.925);transform-origin:0 50%"><i class="b"></i>Trường hợp 39/40, nếu mặc fit thì chọn 39, nếu mặc thoải mái thì chọn 40.</span></div>
<div class="abs" style="left:355px;top:569.4px;color:#383838;font-size:9px;line-height:1;white-space:nowrap"><span style="display:inline-block;transform:scaleX(.925);transform-origin:0 50%"><i class="b"></i>Nếu thích mặc rộng hơn bạn hãy chọn sang regular cùng size.</span></div>
</body></html>
